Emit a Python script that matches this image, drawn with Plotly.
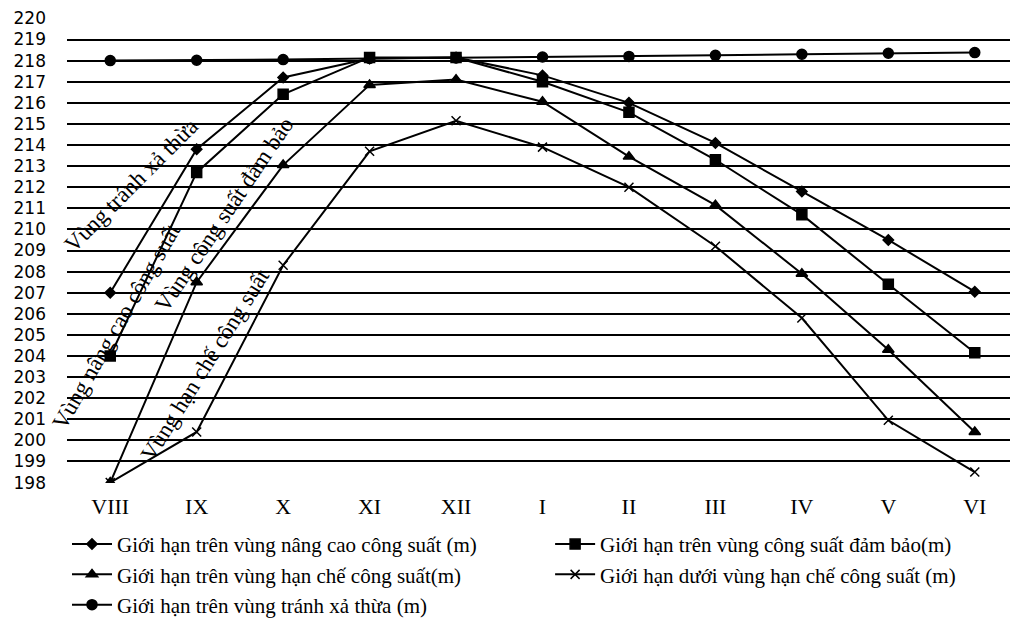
import plotly.graph_objects as go

months = ["VIII", "IX", "X", "XI", "XII", "I", "II", "III", "IV", "V", "VI"]
nang_cao = [207.0, 213.8, 217.2, 218.1, 218.15, 217.3, 216.0, 214.1, 211.8, 209.5, 207.05]
dam_bao = [204.0, 212.7, 216.4, 218.15, 218.15, 217.0, 215.55, 213.3, 210.7, 207.4, 204.15]
han_che_tren = [198.0, 207.5, 213.05, 216.85, 217.1, 216.05, 213.45, 211.15, 207.9, 204.3, 200.4]
han_che_duoi = [198.0, 200.4, 208.3, 213.7, 215.15, 213.9, 212.0, 209.2, 205.8, 200.95, 198.5]
tranh_xa = [218.0, 218.02, 218.05, 218.1, 218.13, 218.17, 218.2, 218.25, 218.3, 218.35, 218.38]

names = [
    "Giới hạn trên vùng nâng cao công suất (m)",
    "Giới hạn trên vùng công suất đảm bảo(m)",
    "Giới hạn trên vùng hạn chế công suất(m)",
    "Giới hạn dưới vùng hạn chế công suất (m)",
    "Giới hạn trên vùng tránh xả thừa (m)",
]
series = [nang_cao, dam_bao, han_che_tren, han_che_duoi, tranh_xa]
symbols = ["diamond", "square", "triangle-up", "x-thin-open", "circle"]
sizes = [8, 10, 10, 9, 10]
legend_ids = ["legend", "legend2", "legend", "legend2", "legend"]

serif = "Liberation Serif"

fig = go.Figure()
for nm, ys, sym, sz, lg in zip(names, series, symbols, sizes, legend_ids):
    fig.add_trace(go.Scatter(
        x=months, y=ys, name=nm, mode="lines+markers", legend=lg,
        line=dict(color="black", width=2),
        marker=dict(symbol=sym, size=sz, color="black",
                    line=dict(color="black", width=1.5)),
    ))

region_labels = [
    ("Vùng tránh xả thừa", 0.24, 212.1, -45),
    ("Vùng nâng cao công suất", 0.07, 205.4, -60),
    ("Vùng công suất đảm bảo", 1.32, 210.7, -56),
    ("Vùng hạn chế công suất", 1.1, 203.6, -58),
]
for txt, xv, yv, ang in region_labels:
    fig.add_annotation(x=xv, y=yv, xref="x", yref="y", text=txt,
                       showarrow=False, textangle=ang,
                       font=dict(family=serif, size=23, color="black"))

legend_common = dict(orientation="v", yanchor="top", xanchor="left",
                     itemwidth=40, tracegroupgap=0, bgcolor="rgba(0,0,0,0)",
                     font=dict(family=serif, size=21, color="black"))

fig.update_layout(
    width=1010, height=618,
    paper_bgcolor="white", plot_bgcolor="white",
    margin=dict(l=59, r=0, t=10, b=143, autoexpand=False),
    showlegend=True,
    legend=dict(x=0.0, y=-0.088, **legend_common),
    legend2=dict(x=0.508, y=-0.088, **legend_common),
    xaxis=dict(type="category", range=[-0.5, 10.5], showgrid=False, showline=False,
               zeroline=False, ticks="", ticklabelstandoff=8,
               tickfont=dict(family=serif, size=22, color="black")),
    yaxis=dict(range=[197.98, 220.02], dtick=1, tick0=198, showgrid=True,
               gridcolor="black", gridwidth=1.5, zeroline=False, showline=False,
               tickfont=dict(family="DejaVu Sans", size=17, color="black"),
               ticklabelstandoff=20),
)

fig.write_html("out.html")
